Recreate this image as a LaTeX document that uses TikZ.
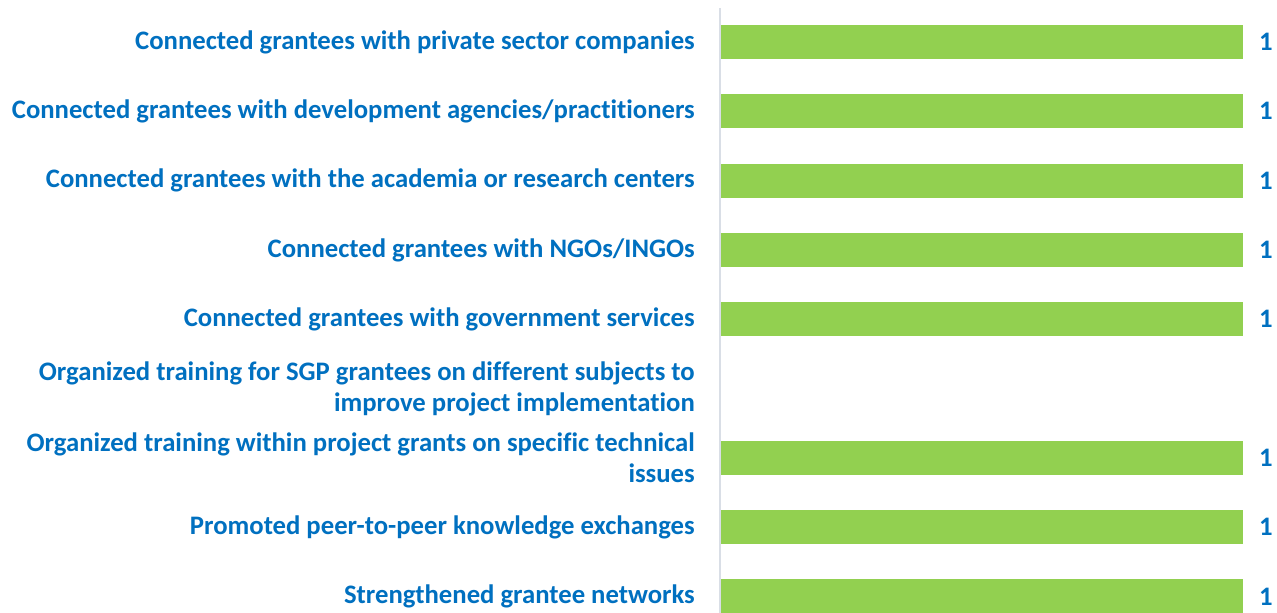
\documentclass[tikz,border=0pt]{standalone}
\usepackage{fontspec}
\setmainfont{Carlito}[Ligatures=NoCommon]
\definecolor{lblblue}{HTML}{0070C0}
\definecolor{bargreen}{HTML}{92D050}
\definecolor{axisgrey}{HTML}{D9DEE6}
\begin{document}
\begin{tikzpicture}[x=1pt,y=-1pt,
  lbl/.style={anchor=east,align=right,text=lblblue,font=\fontsize{26.7}{31}\selectfont\bfseries,inner sep=0pt},
  bar/.style={fill=bargreen,draw=none,anchor=west,minimum width=522pt,minimum height=34pt,inner sep=0pt},
  val/.style={text=lblblue,font=\fontsize{26.7}{31}\selectfont\bfseries,inner sep=0pt}]
\useasboundingbox (0,0) rectangle (1277,613);
\fill[white] (0,0) rectangle (1277,613);
\begin{scope}
\clip (0,0) rectangle (1277,613);
\coordinate (axtop) at (720,8);
\coordinate (axbot) at (720,613);
\draw[axisgrey,line width=2pt] (axtop) -- (axbot);
\foreach \i/\t/\hasbar in {
 0/{Connected grantees with private sector companies}/1,
 1/{Connected grantees with development agencies/practitioners}/1,
 2/{Connected grantees with the academia or research centers}/1,
 3/{Connected grantees with NGOs/INGOs}/1,
 4/{Connected grantees with government services}/1,
 5/{Organized training for SGP grantees on different subjects to\\improve project implementation}/0,
 6/{Organized training within project grants on specific technical\\issues}/1,
 7/{Promoted peer-to-peer knowledge exchanges}/1,
 8/{Strengthened grantee networks}/1}{
  \pgfmathsetmacro{\yy}{42+69.3*\i}
  \node[lbl] (l\i) at (695,\yy) {\t};
  \ifnum\hasbar=1
    \node[bar] (b\i) at (721,\yy) {};
    \node[val] (v\i) at (1266,\yy) {1};
  \fi
}
\end{scope}
\end{tikzpicture}
\end{document}
